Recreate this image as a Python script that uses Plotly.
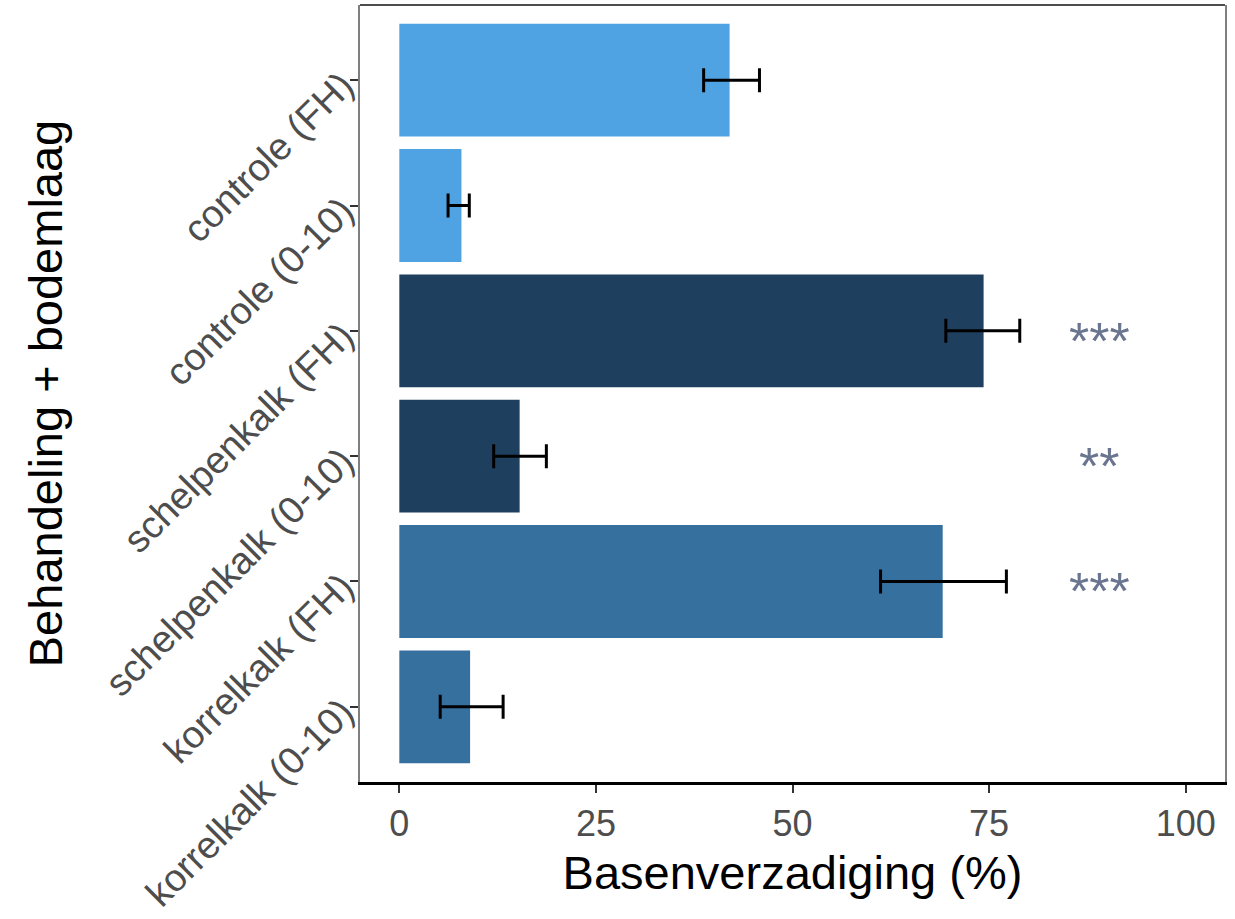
import plotly.graph_objects as go

categories = ["controle (FH)", "controle (0-10)", "schelpenkalk (FH)",
              "schelpenkalk (0-10)", "korrelkalk (FH)", "korrelkalk (0-10)"]
values = [42.0, 7.9, 74.3, 15.3, 69.1, 9.0]
err_low = [38.7, 6.2, 69.5, 12.0, 61.2, 5.2]
err_high = [45.8, 8.9, 78.9, 18.7, 77.2, 13.2]
bar_colors = ["#4FA3E3", "#4FA3E3", "#1F3F5E", "#1F3F5E", "#36709F", "#36709F"]
signif = ["", "", "***", "**", "***", ""]
signif_x = 89
xticks = [0, 25, 50, 75, 100]

FONT = "Liberation Sans, Arial, sans-serif"
plus = [h - v for h, v in zip(err_high, values)]
minus = [v - l for l, v in zip(err_low, values)]

fig = go.Figure()
fig.add_trace(go.Bar(
    x=values, y=categories, orientation="h",
    marker=dict(color=bar_colors, line=dict(width=0)),
    width=0.9,
    error_x=dict(type="data", symmetric=False, array=plus, arrayminus=minus,
                 color="black", thickness=3, width=12),
    showlegend=False,
))
for cat, s in zip(categories, signif):
    if s:
        fig.add_annotation(x=signif_x, y=cat, text=s, showarrow=False,
                           xanchor="center", yanchor="middle", yshift=-10,
                           font=dict(size=52, color="#6A7590", family=FONT))

fig.add_shape(type="line", xref="paper", yref="paper", x0=0, x1=1, y0=1, y1=1,
              line=dict(color="#4D4D4D", width=2))

fig.update_layout(
    width=1235, height=919,
    paper_bgcolor="white", plot_bgcolor="white",
    margin=dict(l=360, r=10, t=5, b=134),
    font=dict(family=FONT, color="#4D4D4D"),
    xaxis=dict(
        range=[-5, 105], tickvals=xticks, ticktext=[str(t) for t in xticks],
        showgrid=False, zeroline=False,
        ticks="outside", ticklen=8, tickwidth=2, tickcolor="#333333",
        tickfont=dict(size=36, color="#4D4D4D"),
        showline=True, linecolor="black", linewidth=3, mirror=False,
        title=dict(text="Basenverzadiging (%)", font=dict(size=47, color="black"), standoff=13),
    ),
    yaxis=dict(
        categoryorder="array", categoryarray=categories,
        range=[5.6, -0.6],
        showgrid=False, zeroline=False,
        ticks="outside", ticklen=8, tickwidth=2, tickcolor="#333333",
        tickangle=-45,
        tickfont=dict(size=38, color="#4D4D4D"),
        showline=True, linecolor="#7F7F7F", linewidth=2, mirror=True,
        title=dict(text="Behandeling + bodemlaag", font=dict(size=47, color="black"), standoff=20),
    ),
)
fig.write_html("out.html")
